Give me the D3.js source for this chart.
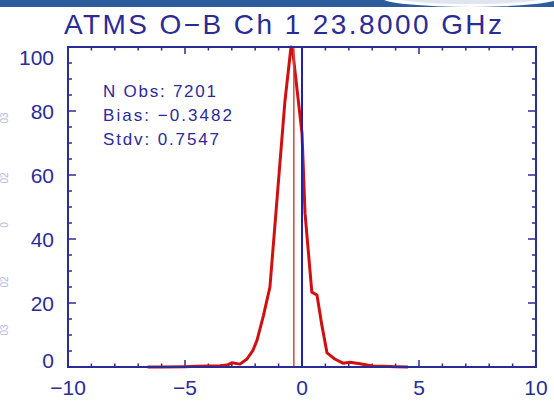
<!DOCTYPE html>
<html>
<head>
<meta charset="utf-8">
<script src="https://cdn.jsdelivr.net/npm/d3@7"></script>
<style>
  body { margin: 0; background: #fff; }
  svg { display: block; font-family: "Liberation Sans", Arial, sans-serif; }
</style>
</head>
<body>
<svg id="chart" width="554" height="404"></svg>
<script>
// histogram of O-B departures (percent of peak)
const obX = [-6.6, -6.0, -5.0, -4.5, -4.0, -3.5, -3.2, -3.0, -2.65, -2.35, -2.09, -1.92, -1.65, -1.37, -1.05, -0.73, -0.47, -0.4, -0.2, 0.0, 0.13, 0.42, 0.64, 0.85, 1.07, 1.4, 1.75, 2.05, 2.48, 3.0, 3.5, 4.0, 4.53];
const obY = [0, 0, 0.1, 0.2, 0.3, 0.4, 0.6, 1.3, 0.9, 2.5, 5.3, 8.4, 16, 25, 54, 83, 100, 99, 86, 73, 48, 23.4, 22.5, 13, 4.4, 2.5, 1.2, 1.5, 1.0, 0.3, 0.2, 0.1, 0];
const bias = -0.3482;
const stats = ["N Obs: 7201", "Bias: \u22120.3482", "Stdv: 0.7547"];
const statWidths = [113, 129, 116];
const xTicks = [-10, -5, 0, 5, 10];
const yTicks = [0, 20, 40, 60, 80, 100];
const edgeLabels = ["03", "02", "0", "02", "03"];
const title = "ATMS O\u2212B Ch 1 23.8000 GHz";

const ink = "#2b2b96";
const svg = d3.select("#chart");

const m = {left: 68, right: 536, top: 47, bottom: 367};
const x = d3.scaleLinear().domain([-10, 10]).range([m.left, m.right]);
const y = d3.scaleLinear().domain([0, 100]).range([m.bottom, m.top]);

// top banner
svg.append("rect").attr("x", 0).attr("y", 0).attr("width", 554).attr("height", 7).attr("fill", "#2d5c9e");
svg.append("ellipse").attr("cx", 470).attr("cy", -2).attr("rx", 88).attr("ry", 9).attr("fill", "#fff");
svg.append("ellipse").attr("cx", 470).attr("cy", -4).attr("rx", 80).attr("ry", 8).attr("fill", "#dfe6f0");

// faint labels on left edge (from the neighbouring panel)
svg.append("g").selectAll("text").data(edgeLabels).join("text")
    .attr("transform", (d, i) => `translate(8,${[118, 178, 225, 282, 330][i]}) rotate(-90)`)
    .attr("text-anchor", "middle").attr("font-size", 10).attr("fill", "#b8b8e0")
    .text(d => d);

// title
svg.append("text").attr("x", 283).attr("y", 34).attr("text-anchor", "middle")
    .attr("font-size", 28).attr("fill", ink).attr("textLength", 438)
    .text(title);

// ticks inward on all sides
const g = svg.append("g").attr("stroke", ink).attr("stroke-width", 1.5);
d3.range(-10, 11, 1).forEach(v => {
    const len = v % 5 === 0 ? 7 : 3.5;
    g.append("line").attr("x1", x(v)).attr("x2", x(v)).attr("y1", m.bottom).attr("y2", m.bottom - len);
    g.append("line").attr("x1", x(v)).attr("x2", x(v)).attr("y1", m.top).attr("y2", m.top + len);
});
d3.range(0, 101, 5).forEach(v => {
    const len = v % 20 === 0 ? 8 : 4;
    g.append("line").attr("y1", y(v)).attr("y2", y(v)).attr("x1", m.left).attr("x2", m.left + len);
    g.append("line").attr("y1", y(v)).attr("y2", y(v)).attr("x1", m.right).attr("x2", m.right - len);
});

// tick labels
svg.append("g").selectAll("text").data(xTicks).join("text")
    .attr("x", d => x(d)).attr("y", 395).attr("text-anchor", "middle")
    .attr("font-size", 21).attr("fill", ink)
    .text(d => d < 0 ? "\u2212" + Math.abs(d) : d);
// end labels are kept inside the axis range
svg.append("g").selectAll("text").data(yTicks).join("text")
    .attr("x", 54).attr("y", d => Math.min(Math.max(y(d), m.top + 10), m.bottom - 7) + 8)
    .attr("text-anchor", "end")
    .attr("font-size", 21).attr("fill", ink)
    .text(d => d);

// curve
const line = d3.line().x(d => x(d[0])).y(d => y(d[1]));
svg.append("path").datum(d3.zip(obX, obY)).attr("d", line)
    .attr("fill", "none").attr("stroke", "#d01010").attr("stroke-width", 3)
    .attr("stroke-linejoin", "round");

// bias and zero lines
svg.append("line").attr("x1", x(bias)).attr("x2", x(bias)).attr("y1", m.top).attr("y2", m.bottom)
    .attr("stroke", "#d04848").attr("stroke-width", 1.5);
svg.append("line").attr("x1", x(0)).attr("x2", x(0)).attr("y1", m.top).attr("y2", m.bottom)
    .attr("stroke", "#2020b0").attr("stroke-width", 2);

// frame
svg.append("rect").attr("x", m.left).attr("y", m.top).attr("width", m.right - m.left).attr("height", m.bottom - m.top)
    .attr("fill", "none").attr("stroke", ink).attr("stroke-width", 2);

// stats
svg.append("g").selectAll("text").data(stats).join("text")
    .attr("x", 103).attr("y", (d, i) => 97 + i * 24)
    .attr("font-size", 17).attr("fill", ink)
    .attr("textLength", (d, i) => statWidths[i])
    .text(d => d);
</script>
</body>
</html>
